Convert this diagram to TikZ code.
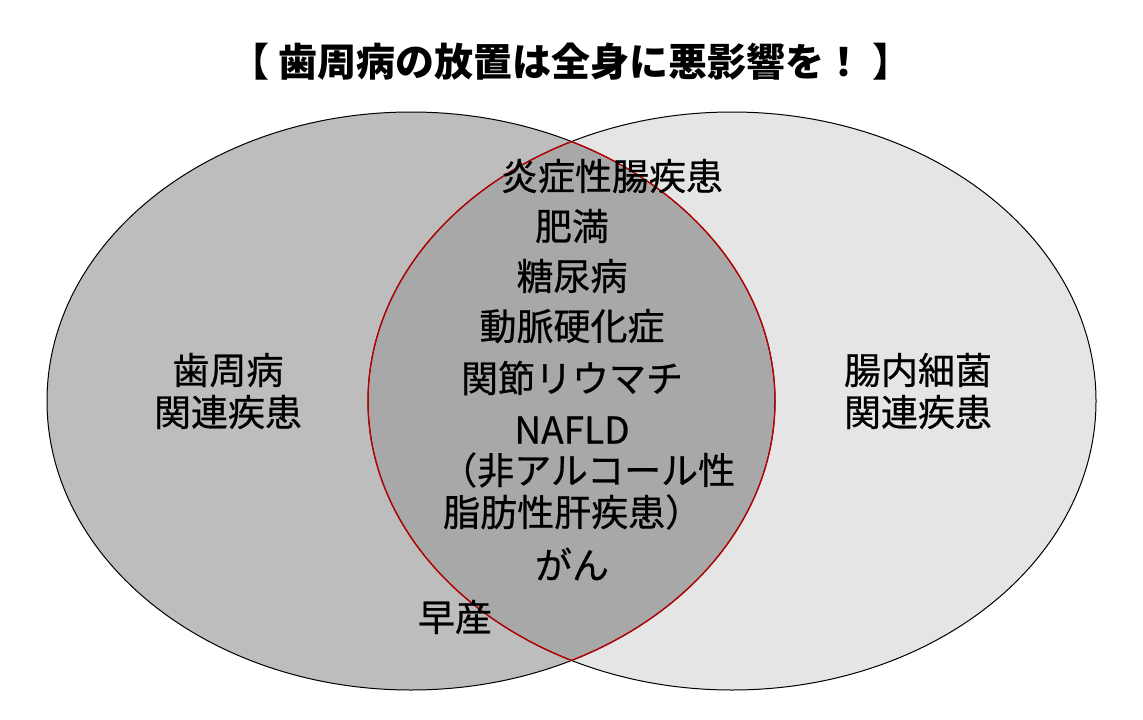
\documentclass[tikz,border=0pt]{standalone}
\usepackage{fontspec}
\setmainfont{Noto Sans CJK JP}
\newfontfamily\med{Noto Sans CJK JP}[FakeBold=0.6]
\begin{document}
\begin{tikzpicture}[x=1pt,y=-1pt,
  lab/.style={font=\med\fontsize{37}{42}\selectfont, inner sep=0pt, text=black}]
\useasboundingbox (0,0) rectangle (1143,720);
\fill[white] (0,0) rectangle (1143,720);
\def\L{(411,401) ellipse [x radius=364, y radius=289]}
\def\R{(732,401) ellipse [x radius=364, y radius=289]}
\fill[black!26] \L;
\fill[black!10] \R;
\begin{scope}\clip \L; \fill[black!34] \R; \end{scope}
\draw[black, line width=1pt] \L;
\draw[black, line width=1pt] \R;
\begin{scope}\clip \R; \draw[red!75!black, line width=1.3pt] \L; \end{scope}
\begin{scope}\clip \L; \draw[red!75!black, line width=1.3pt] \R; \end{scope}
\node[lab, font=\fontsize{39}{44}\selectfont\bfseries] (title) at (571,62) {【 歯周病の放置は全身に悪影響を！ 】};
\node[lab] (a1) at (612,176) {炎症性腸疾患};
\node[lab] (a2) at (572,226) {肥満};
\node[lab] (a3) at (572,276) {糖尿病};
\node[lab] (a4) at (572,326) {動脈硬化症};
\node[lab] (a5) at (572,378) {関節リウマチ};
\node[lab] (a6) at (572,430) {NAFLD};
\node[lab, anchor=west] (a7) at (440,470) {（非アルコール性};
\node[lab, anchor=west] (a8) at (443,512) {脂肪性肝疾患）};
\node[lab] (a9) at (572,564) {がん};
\node[lab] (b1) at (455,617) {早産};
\node[lab, align=center] (l) at (228,391) {歯周病\\関連疾患};
\node[lab, align=center] (r) at (918,391) {腸内細菌\\関連疾患};
\end{tikzpicture}
\end{document}
